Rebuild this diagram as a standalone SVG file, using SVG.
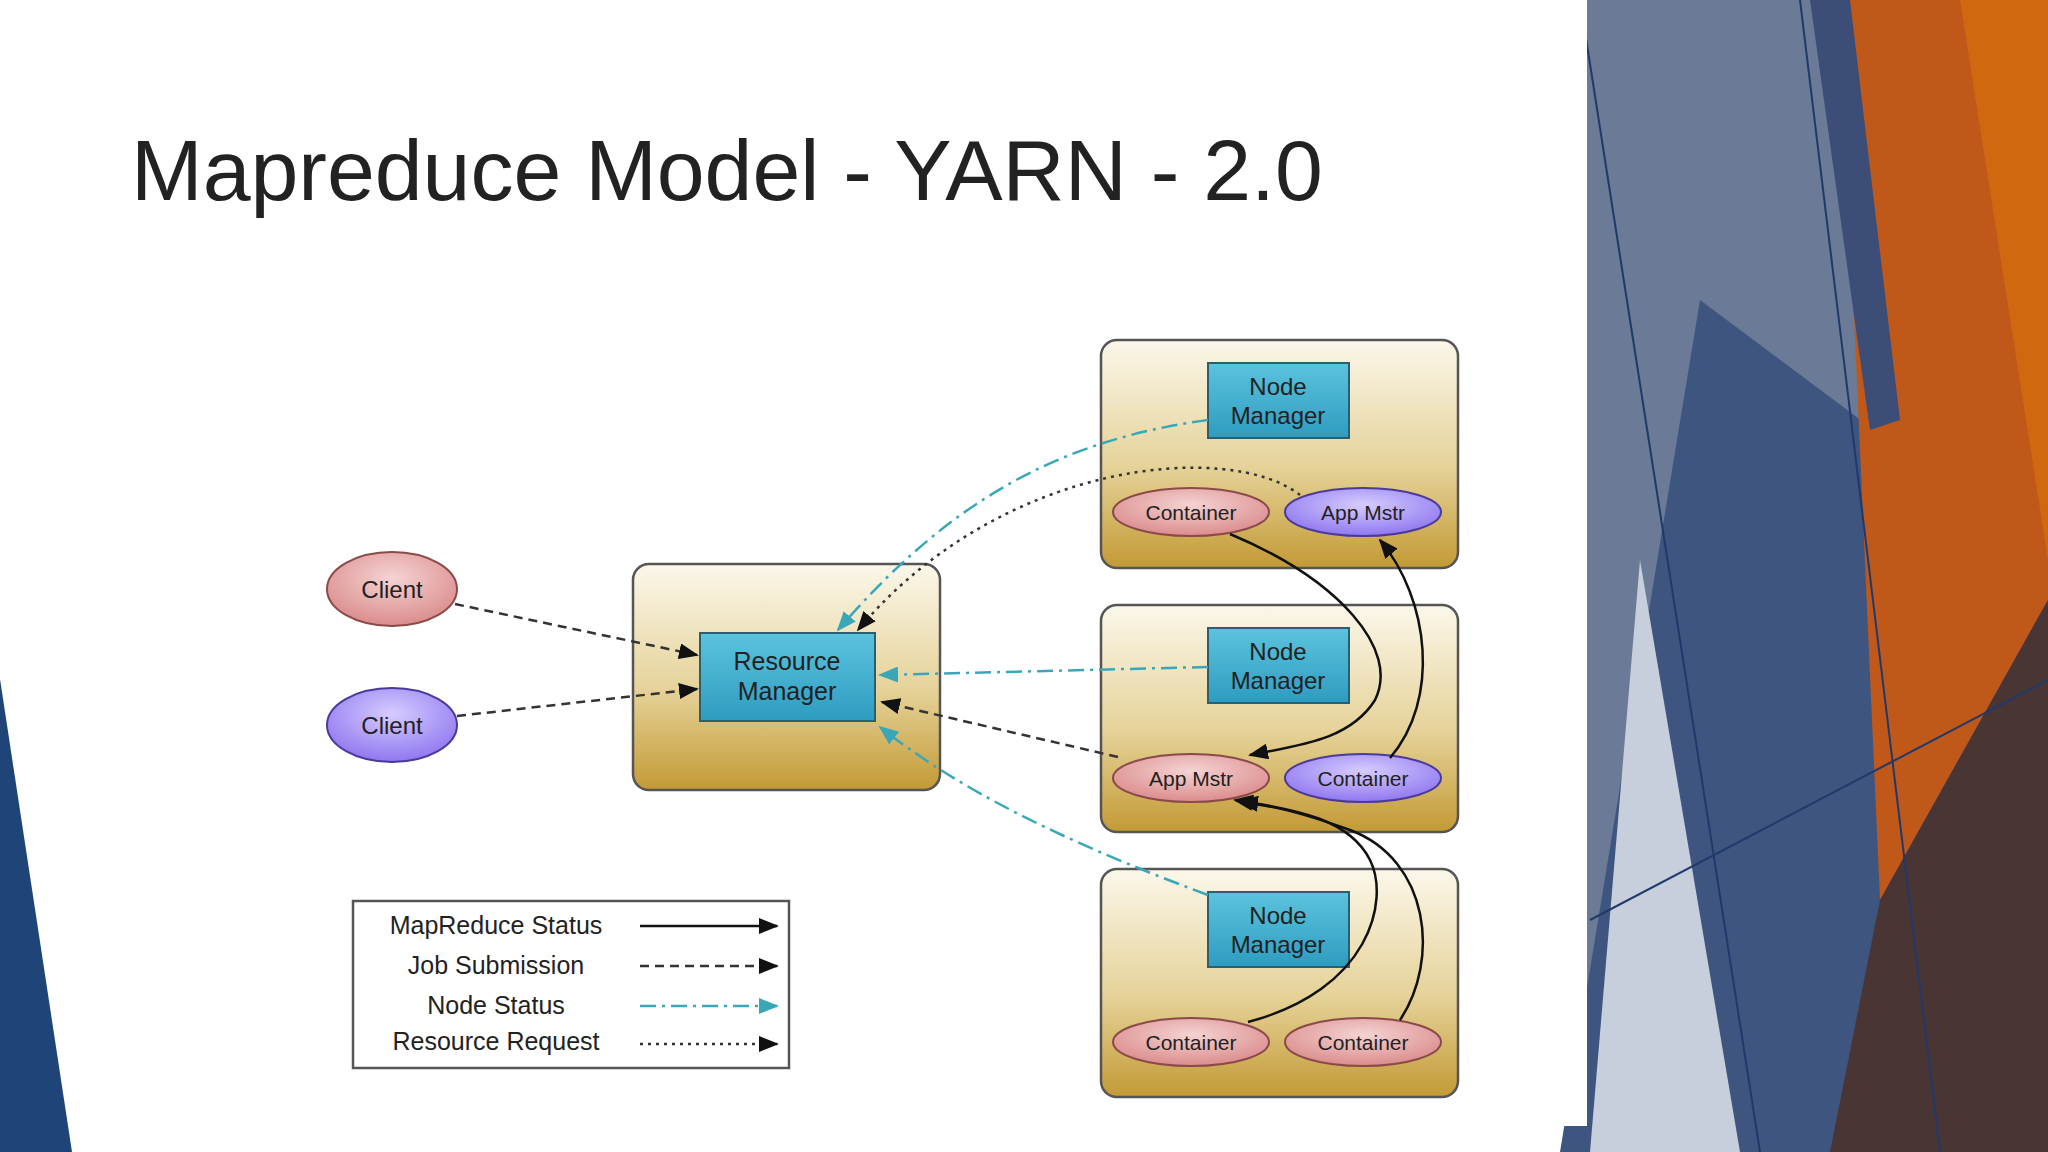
<svg xmlns="http://www.w3.org/2000/svg" width="2048" height="1152" viewBox="0 0 2048 1152">
<defs>
<linearGradient id="gold" x1="0" y1="0" x2="0" y2="1"><stop offset="0" stop-color="#fbf7ea"/><stop offset="0.55" stop-color="#e6d39a"/><stop offset="1" stop-color="#c39a35"/></linearGradient>
<linearGradient id="blue" x1="0" y1="0" x2="0" y2="1"><stop offset="0" stop-color="#5cc3de"/><stop offset="1" stop-color="#2e9cc0"/></linearGradient>
<radialGradient id="pink" cx="0.5" cy="0.35" r="0.7"><stop offset="0" stop-color="#f5d3d3"/><stop offset="1" stop-color="#d98686"/></radialGradient>
<radialGradient id="purple" cx="0.5" cy="0.35" r="0.7"><stop offset="0" stop-color="#d6ccff"/><stop offset="1" stop-color="#8a70ee"/></radialGradient>
<marker id="at" markerWidth="20" markerHeight="16" refX="18" refY="8" orient="auto" markerUnits="userSpaceOnUse"><path d="M0,0 L20,8 L0,16 z" fill="#111"/></marker>
<marker id="tt" markerWidth="20" markerHeight="16" refX="18" refY="8" orient="auto" markerUnits="userSpaceOnUse"><path d="M0,0 L20,8 L0,16 z" fill="#3aa7b8"/></marker>
<style>
.box{fill:url(#gold);stroke:#555;stroke-width:2.5}
.nm{fill:url(#blue);stroke:#2a5f70;stroke-width:2}
.pk{fill:url(#pink);stroke:#8a4a4a;stroke-width:2}
.pu{fill:url(#purple);stroke:#4a3a9a;stroke-width:2}
.t{font-family:"Liberation Sans",Arial,sans-serif;fill:#222;text-anchor:middle}
.ms{fill:none;stroke:#111;stroke-width:2.5}
.js{fill:none;stroke:#333;stroke-width:2.5;stroke-dasharray:9 6}
.ns{fill:none;stroke:#3aa7b8;stroke-width:2.5;stroke-dasharray:16 6 3 6}
.rr{fill:none;stroke:#333;stroke-width:2.5;stroke-dasharray:3 5}
</style>
</defs>
<rect width="2048" height="1152" fill="#fff"/>
<g id="background">
<polygon points="1570,0 1840,0 2048,560 2048,1152 1580,1152" fill="#6b7a96"/>
<polygon points="1700,300 2048,560 2048,1152 1560,1152" fill="#3e5580"/>
<polygon points="1640,560 1740,1152 1590,1152" fill="#c8cfdc"/>
<polygon points="1840,0 2048,0 2048,600 1880,900" fill="#c0581a"/>
<polygon points="1960,0 2048,0 2048,560" fill="#d0680f"/>
<polygon points="1880,900 2048,600 2048,1152 1830,1152" fill="#4a3535"/>
<polygon points="1810,0 1850,0 1900,420 1870,430" fill="#3c4e78"/>
<line x1="1580" y1="0" x2="1760" y2="1152" stroke="#1f3a6a" stroke-width="2"/>
<line x1="1800" y1="0" x2="1940" y2="1152" stroke="#1f3a6a" stroke-width="2"/>
<line x1="1590" y1="920" x2="2048" y2="680" stroke="#1f3a6a" stroke-width="2"/>
<rect x="0" y="0" width="1587" height="1126" fill="#fff"/>
<polygon points="0,679 72,1152 0,1152" fill="#1e4478"/>
</g>
<text class="t" x="131" y="200" style="text-anchor:start;font-size:86px" fill="#000">Mapreduce Model - YARN - 2.0</text>
<g id="rm"><rect class="box" x="633" y="564" width="307" height="226" rx="16"/><rect class="nm" x="700" y="633" width="175" height="88"/><text class="t" x="787" y="670" font-size="25">Resource</text><text class="t" x="787" y="700" font-size="25">Manager</text></g>
<g id="node1"><rect class="box" x="1101" y="340" width="357" height="228" rx="16"/><rect class="nm" x="1208" y="363" width="141" height="75"/><text class="t" x="1278" y="395" font-size="24">Node</text><text class="t" x="1278" y="424" font-size="24">Manager</text>
<ellipse class="pk" cx="1191" cy="512" rx="78" ry="24"/><text class="t" x="1191" y="520" font-size="21">Container</text>
<ellipse class="pu" cx="1363" cy="512" rx="78" ry="24"/><text class="t" x="1363" y="520" font-size="21">App Mstr</text></g>
<g id="node2"><rect class="box" x="1101" y="605" width="357" height="227" rx="16"/><rect class="nm" x="1208" y="628" width="141" height="75"/><text class="t" x="1278" y="660" font-size="24">Node</text><text class="t" x="1278" y="689" font-size="24">Manager</text>
<ellipse class="pk" cx="1191" cy="778" rx="78" ry="24"/><text class="t" x="1191" y="786" font-size="21">App Mstr</text>
<ellipse class="pu" cx="1363" cy="778" rx="78" ry="24"/><text class="t" x="1363" y="786" font-size="21">Container</text></g>
<g id="node3"><rect class="box" x="1101" y="869" width="357" height="228" rx="16"/><rect class="nm" x="1208" y="892" width="141" height="75"/><text class="t" x="1278" y="924" font-size="24">Node</text><text class="t" x="1278" y="953" font-size="24">Manager</text>
<ellipse class="pk" cx="1191" cy="1042" rx="78" ry="24"/><text class="t" x="1191" y="1050" font-size="21">Container</text>
<ellipse class="pk" cx="1363" cy="1042" rx="78" ry="24"/><text class="t" x="1363" y="1050" font-size="21">Container</text></g>
<g id="client1"><ellipse class="pk" cx="392" cy="589" rx="65" ry="37"/><text class="t" x="392" y="598" font-size="24">Client</text></g>
<g id="client2"><ellipse class="pu" cx="392" cy="725" rx="65" ry="37"/><text class="t" x="392" y="734" font-size="24">Client</text></g>
<g id="connectors">
<path class="js" d="M455,604 L697,655" marker-end="url(#at)"/>
<path class="js" d="M457,716 L697,689" marker-end="url(#at)"/>
<path class="ns" d="M1208,420 C1060,440 950,500 838,630" marker-end="url(#tt)"/>
<path class="rr" d="M1300,495 C1230,440 1000,460 858,630" marker-end="url(#at)"/>
<path class="ns" d="M1208,667 L880,675" marker-end="url(#tt)"/>
<path class="js" d="M1118,757 L882,702" marker-end="url(#at)"/>
<path class="ns" d="M1208,895 C1060,840 960,790 880,727" marker-end="url(#tt)"/>
<path class="ms" d="M1230,534 C1340,580 1400,650 1375,700 C1350,740 1300,745 1250,755" marker-end="url(#at)"/>
<path class="ms" d="M1390,758 C1440,700 1430,600 1380,540" marker-end="url(#at)"/>
<path class="ms" d="M1248,1022 C1370,990 1390,900 1370,860 C1350,820 1300,810 1235,800" marker-end="url(#at)"/>
<path class="ms" d="M1400,1020 C1440,960 1430,860 1350,830 C1300,812 1270,805 1240,802" marker-end="url(#at)"/>
</g>
<g id="legend"><rect x="353" y="901" width="436" height="167" fill="#fff" stroke="#555" stroke-width="2.5"/>
<text class="t" x="496" y="934" font-size="25">MapReduce Status</text>
<text class="t" x="496" y="974" font-size="25">Job Submission</text>
<text class="t" x="496" y="1014" font-size="25">Node Status</text>
<text class="t" x="496" y="1050" font-size="25">Resource Request</text>
<path class="ms" d="M640,926 L777,926" marker-end="url(#at)"/>
<path class="js" d="M640,966 L777,966" marker-end="url(#at)"/>
<path class="ns" d="M640,1006 L777,1006" marker-end="url(#tt)"/>
<path class="rr" d="M640,1044 L777,1044" marker-end="url(#at)"/>
</g>
</svg>
